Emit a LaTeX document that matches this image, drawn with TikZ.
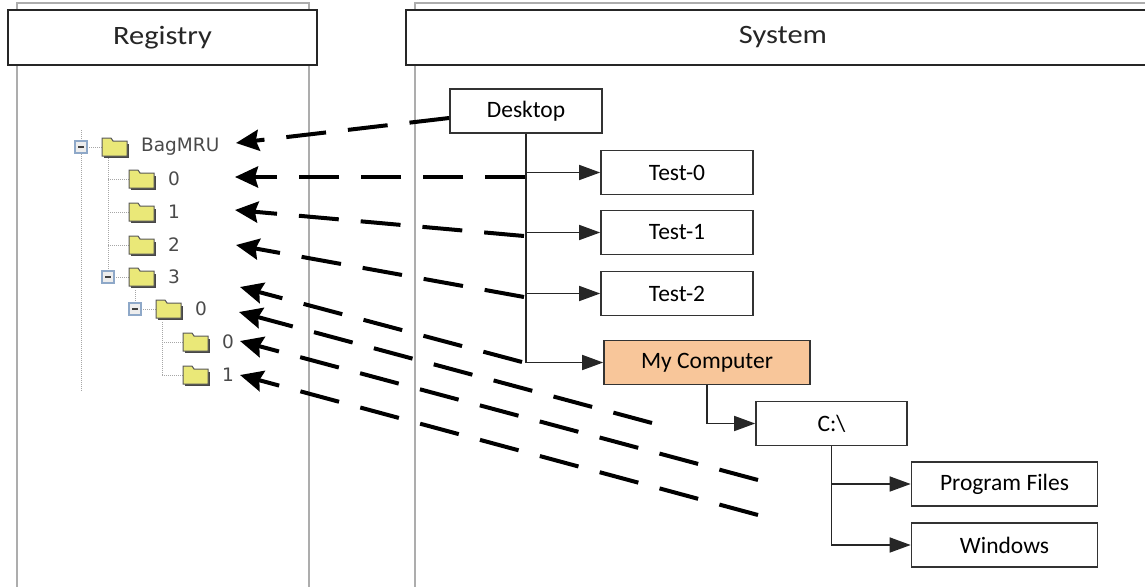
\documentclass[tikz,border=0pt]{standalone}
\usepackage{fontspec}
\setmainfont{Carlito}
\newfontfamily\headfont[FakeStretch=1.15]{Carlito}
\newfontfamily\treefont{DejaVu Sans}
\usetikzlibrary{arrows.meta}
\definecolor{mcfill}{HTML}{F8C69A}
\definecolor{folderyellow}{HTML}{EAE878}
\definecolor{expblue}{HTML}{8EA8C8}
\definecolor{treegray}{HTML}{4A4A4A}
\begin{document}
\begin{tikzpicture}[x=1pt,y=-1pt,
        lane/.style={line width=1.8pt,draw=black!32},
        head/.style={draw=black!85,line width=1.8pt,fill=white,minimum height=55pt,inner sep=0pt,
            font=\headfont\fontsize{26.5}{30}\selectfont,text=black!85},
        sysbox/.style={draw=black!80,line width=1.6pt,fill=white,minimum width=152pt,minimum height=44pt,
            inner sep=0pt,font=\fontsize{23.5}{27}\selectfont},
        tlabel/.style={anchor=west,inner sep=0pt,font=\treefont\fontsize{18.5}{20}\selectfont,text=treegray},
        treeline/.style={draw=black!35,line width=1pt,dash pattern=on 1pt off 1pt},
        link/.style={line width=1.5pt,draw=black!85,-{Triangle[length=21pt,width=15pt]}},
        ptr/.style={line width=4pt,dash pattern=on 40pt off 22pt,-{Stealth[length=23pt,width=21pt,inset=3pt]}},
        folder/.pic={
            \fill[black!72] (-11,-3) rectangle (14,11);
            \filldraw[draw=black!65,fill=folderyellow,line width=1pt]
                (-13,-9) -- (-4,-9) -- (-2,-6) -- (12,-6) -- (12,9) -- (-13,9) -- cycle;
        },
        expander/.pic={
            \filldraw[draw=expblue,fill=black!7,line width=1.2pt] (-6,-6) rectangle (6,6);
            \draw[black!75,line width=1.6pt] (-3,0) -- (3,0);
        }]
    \useasboundingbox (0,0) rectangle (1145,586);
    \clip (0,0) rectangle (1145,586);
    %% lanes
    \draw[lane] (17,590) -- (17,3) -- (309,3) -- (309,590);
    \draw[lane] (415,590) -- (415,3) -- (1150,3);
    \node[head,minimum width=309pt] (reg) at (162.5,37.5) {Registry};
    \node[head,minimum width=754pt] (sys) at (783,37.5) {System};
    %% registry tree
    \draw[treeline] (81,130) -- (81,392);
    \draw[treeline] (108,158) -- (108,277);
    \draw[treeline] (135,290) -- (135,309);
    \draw[treeline] (162,322) -- (162,375);
    \foreach \n/\lvl/\y/\txt in {bag/0/147/BagMRU,k0/1/179/0,k1/1/212/1,k2/1/245/2,k3/1/277/3,
                                 k30/2/309/0,k300/3/342/0,k301/3/375/1} {
        \draw[treeline] ({81+27*\lvl},\y) -- ({102+27*\lvl},\y);
        \pic at ({115+27*\lvl},\y) {folder};
        \node[tlabel] (\n) at ({141+27*\lvl},\y) {\txt};
    }
    \foreach \x/\y in {81/147,108/277,135/309}
        \pic at (\x,\y) {expander};
    %% system tree
    \node[sysbox] (desk) at (526,111) {Desktop};
    \foreach \i/\y in {0/172.5,1/232.5,2/293.5}
        \node[sysbox] (test\i) at (677,\y) {Test-\i};
    \node[sysbox,fill=mcfill,minimum width=206pt] (mc) at (707,362.5) {My Computer};
    \node[sysbox,minimum width=151pt] (cdrv) at (831.5,423.5) {C:\textbackslash};
    \node[sysbox,minimum width=186pt] (pf) at (1004.5,484) {Program Files};
    \node[sysbox,minimum width=186pt] (win) at (1004.5,545) {Windows};
    \foreach \t in {test0,test1,test2,mc}
        \draw[link] (desk.south) |- (\t.west);
    \draw[link] (mc.south) |- (cdrv.west);
    \foreach \t in {pf,win}
        \draw[link] (cdrv.south) |- (\t.west);
    %% dashed pointers
    \foreach \n/\x/\y in {bag/236/143,k0/235/177,k1/235/210,k2/236/245,k3/240/287,
                          k30/239/312,k300/240/341,k301/240/375}
        \coordinate (tip-\n) at (\x,\y);
    \coordinate (end-bag) at ([yshift=-7pt]desk.west);
    \foreach \n/\x/\y in {k0/525/177,k1/524/236,k2/524/297,k3/522/362,
                          k30/652/423,k300/758/480,k301/758/515}
        \coordinate (end-\n) at (\x,\y);
    \foreach \n in {bag,k0,k1,k2,k3,k30,k300,k301}
        \draw[ptr] (end-\n) -- (tip-\n);
\end{tikzpicture}
\end{document}
